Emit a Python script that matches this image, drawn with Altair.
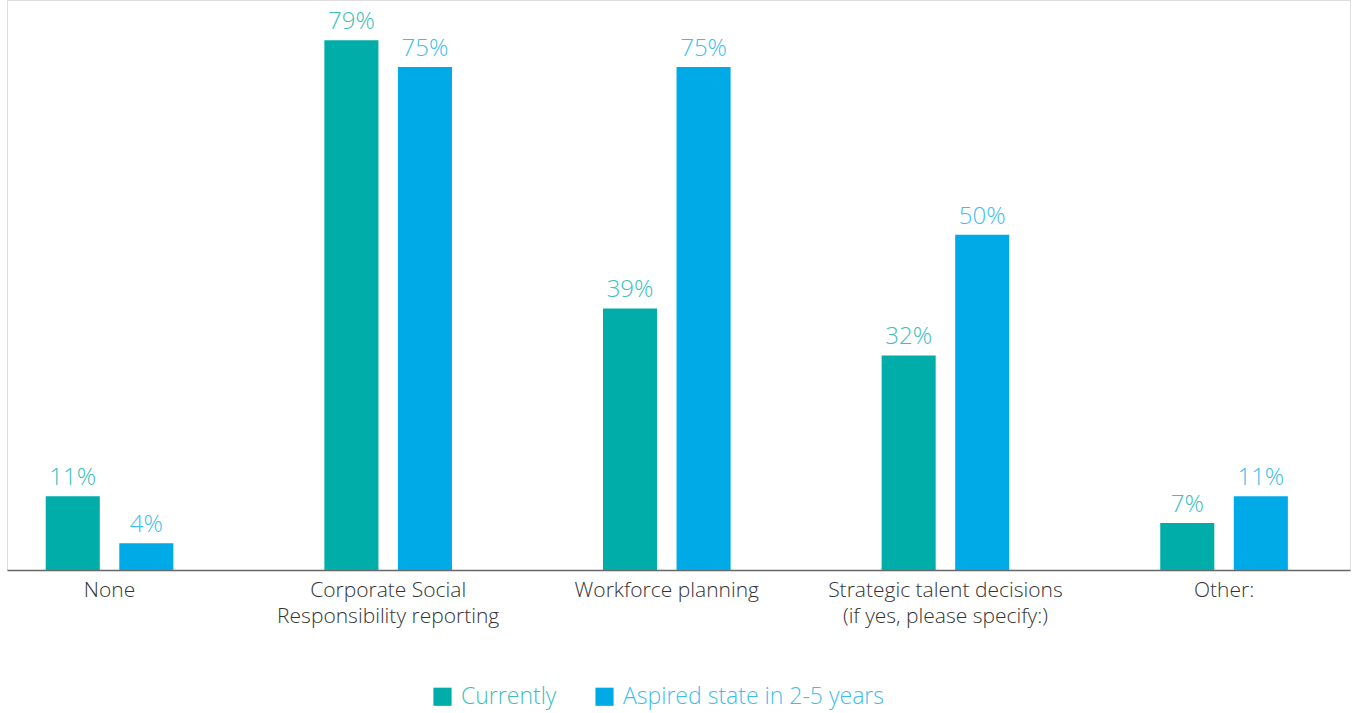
import altair as alt
import pandas as pd

categories = [
    "None",
    "Corporate Social\nResponsibility reporting",
    "Workforce planning",
    "Strategic talent decisions\n(if yes, please specify:)",
    "Other:",
]
series = ["Currently", "Aspired state in 2-5 years"]
currently = [11, 79, 39, 32, 7]
aspired = [4, 75, 75, 50, 11]

rows = []
for c, v in zip(categories, currently):
    rows.append({"category": c, "series": series[0], "value": v})
for c, v in zip(categories, aspired):
    rows.append({"category": c, "series": series[1], "value": v})
df = pd.DataFrame(rows)
df["label"] = df["value"].astype(str) + "%"

FONT = "Open Sans"
bar_colors = ["#00ADA8", "#00AAE6"]
text_colors = ["#3DC0BB", "#3DBEEE"]

x = alt.X(
    "category:N",
    sort=categories,
    scale=alt.Scale(paddingInner=0.542, paddingOuter=0.181, align=0.384),
    axis=alt.Axis(
        title=None,
        labelAngle=0,
        labelExpr="split(datum.label, '\\n')",
        ticks=False,
        domainColor="#666666",
        domainWidth=1.5,
        labelFontSize=21,
        labelFont=FONT,
        labelFontWeight=300,
        labelColor="#333333",
        labelPadding=9,
        labelLineHeight=26,
        labelLimit=600,
    ),
)
xoff = alt.XOffset("series:N", sort=series, scale=alt.Scale(paddingInner=0.265, paddingOuter=0))
y = alt.Y("value:Q", scale=alt.Scale(domain=[0, 85]), axis=None)

base = alt.Chart(df).encode(x=x, xOffset=xoff, y=y)

bars = base.mark_bar().encode(
    color=alt.Color(
        "series:N",
        sort=series,
        scale=alt.Scale(domain=series, range=bar_colors),
        legend=alt.Legend(
            title=None,
            orient="none",
            legendX=424,
            legendY=685,
            direction="horizontal",
            symbolType="square",
            symbolSize=330,
            symbolStrokeWidth=0,
            labelFontSize=23,
            labelFont=FONT,
            labelFontWeight=300,
            labelColor=alt.ExprRef("datum.value == 'Currently' ? '#3DC0BB' : '#3DBEEE'"),
            labelOffset=7,
            columnPadding=36,
            labelLimit=400,
        ),
    )
)

labels = base.mark_text(baseline="bottom", dy=-6, fontSize=24, font=FONT, fontWeight=300).encode(
    text="label:N",
    color=alt.condition(alt.datum.series == "Currently", alt.value(text_colors[0]), alt.value(text_colors[1])),
)

chart = (
    alt.layer(bars, labels)
    .properties(
        width=1343,
        height=570,
        autosize=alt.AutoSizeParams(type="none"),
        padding={"left": 7, "top": 0, "right": 7, "bottom": 143},
    )
    .configure_view(stroke=None)
    .configure(background="white")
)

chart.save("out.html", embed_options={"renderer": "svg", "actions": False})
